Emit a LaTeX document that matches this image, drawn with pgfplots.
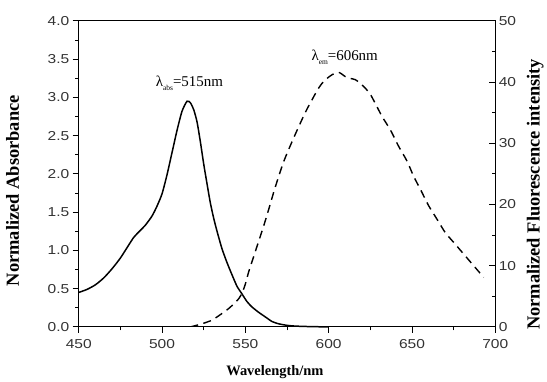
\documentclass[border=0pt]{standalone}
\usepackage{fontspec}
\setmainfont{Liberation Serif}
\newfontfamily\ticksfont[FakeStretch=1.2]{Liberation Sans}
\usepackage{pgfplots}
\pgfplotsset{compat=1.18}
\pgfplotstableread{
x y
450 0.45
455 0.49
460 0.55
465 0.64
470 0.76
475 0.90
480 1.07
483 1.17
486 1.24
490 1.33
494 1.45
497 1.58
500 1.74
503 1.99
506 2.28
509 2.57
512 2.82
515 2.95
517 2.93
519 2.84
521 2.68
523 2.42
525 2.13
527 1.87
529 1.62
531 1.42
533 1.25
536 1.02
539 0.84
542 0.68
545 0.53
548 0.43
551 0.33
554 0.26
558 0.19
562 0.13
566 0.07
570 0.04
575 0.02
580 0.01
590 0.003
600 0
}\absdata
\pgfplotstableread{
x y
517 0
520 0.2
525 0.6
530 1.1
535 2.0
540 3.0
544 4.0
546 4.6
548 5.5
550 7.0
552 9.0
555 11.5
558 14.0
561 16.5
564 19.2
567 22.0
570 24.6
573 27.0
576 29.0
580 31.5
584 33.9
587 35.6
590 37.1
593 38.6
596 39.8
599 40.6
602 41.2
606 41.6
610 40.9
613 40.6
616 40.4
619 39.8
622 39.0
625 38.0
628 36.5
632 34.4
637 32.2
642 29.5
647 27.1
651 24.6
655 22.5
660 19.8
665 17.6
670 15.4
676 13.5
681 11.9
687 10.0
693 8.1
}\emdata
\begin{document}
\begin{tikzpicture}
\pgfplotsset{
  common/.style={
    scale only axis, width=418pt, height=307pt,
    xmin=450, xmax=700,
    axis line style={line width=1.1pt},
    tick style={line width=0.9pt, black},
    major tick length=6pt, minor tick length=3.5pt,
    tick label style={font=\ticksfont\fontsize{13}{13}\selectfont, text=black!80},
    /pgf/number format/assume math mode=true,
  }
}
\begin{axis}[common, name=ax,
  ymin=0, ymax=4,
  xtick={450,500,...,700}, ytick={0,0.5,...,4},
  minor x tick num=1, minor y tick num=1,
  xtick pos=bottom, ytick pos=left, tick align=outside,
  xticklabel style={yshift=-3pt},
  yticklabel style={/pgf/number format/.cd, fixed, fixed zerofill, precision=1},
  clip=false]
\addplot[black, line width=1.5pt, smooth, tension=0.4] table[x=x,y=y] {\absdata};
\node[font=\fontsize{15}{15}\selectfont] at (axis cs:516.4,3.19) {λ\raisebox{-0.6ex}{\fontsize{7.5}{7.5}\selectfont abs}=515nm};
\node[font=\fontsize{15}{15}\selectfont] at (axis cs:609.6,3.53) {λ\raisebox{-0.6ex}{\fontsize{7.5}{7.5}\selectfont em}=606nm};
\node[rotate=90, font=\bfseries\fontsize{18.5}{18.5}\selectfont] at (rel axis cs:-0.159,0.445) {Normalized Absorbance};
\node[rotate=90, font=\bfseries\fontsize{18.5}{18.5}\selectfont] at (rel axis cs:1.096,0.433) {Normalized Fluorescence intensity};
\node[font=\bfseries\fontsize{14.5}{14.5}\selectfont, anchor=base] at (rel axis cs:0.471,-0.158) {Wavelength/nm};
\end{axis}
\begin{axis}[common,
  ymin=0, ymax=50,
  axis x line=none, axis y line*=right,
  ytick={0,10,...,50}, minor y tick num=1,
  tick align=inside]
\addplot[black, line width=1.4pt, dash pattern=on 8pt off 5.5pt, smooth, tension=0.4] table[x=x,y=y] {\emdata};
\end{axis}
\path ([xshift=-79pt,yshift=-52pt]ax.south west) rectangle ([xshift=50pt,yshift=21pt]ax.north east);
\end{tikzpicture}
\end{document}
